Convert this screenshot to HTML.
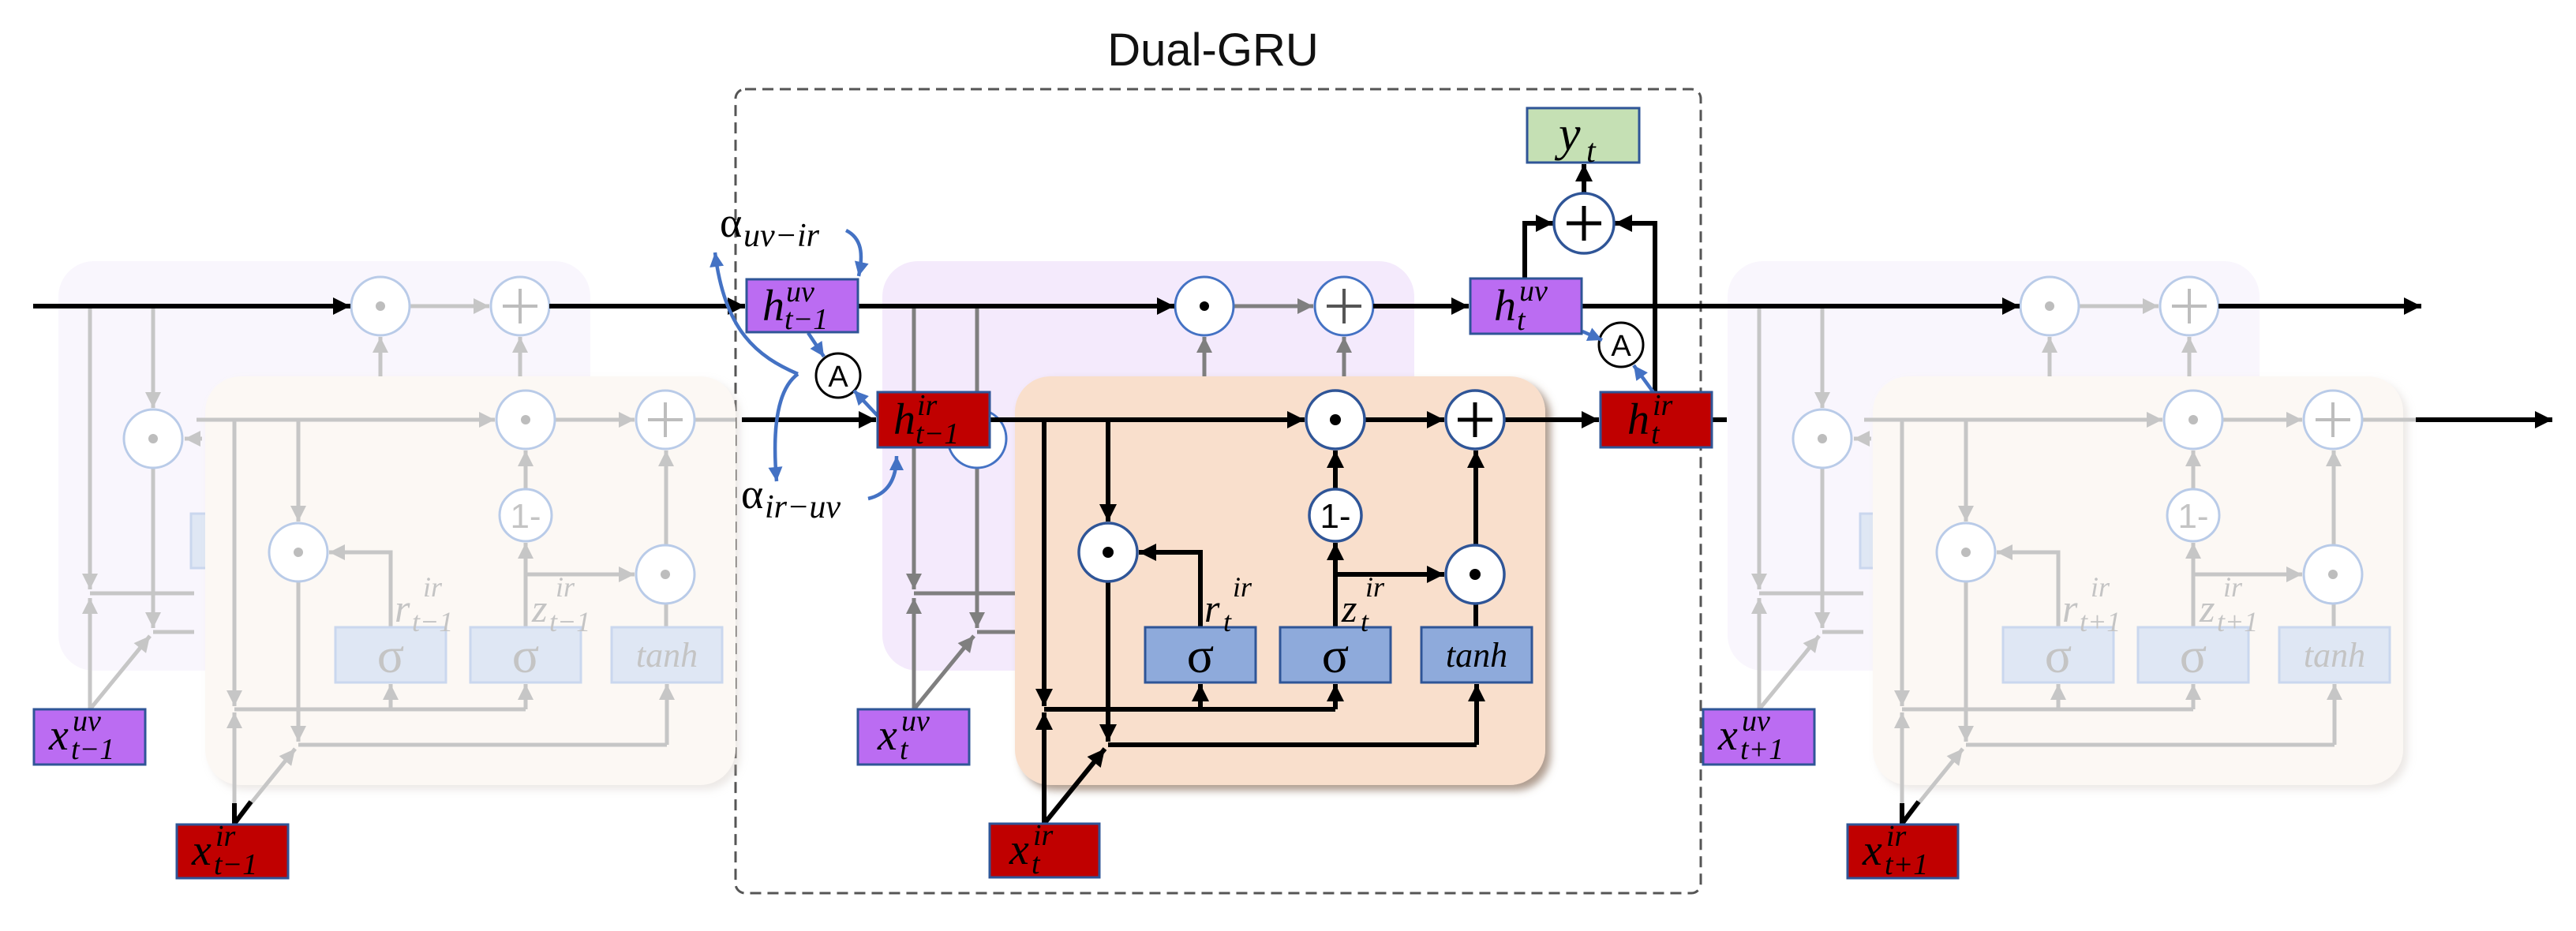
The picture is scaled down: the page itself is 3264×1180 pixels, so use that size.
<!DOCTYPE html>
<html><head><meta charset="utf-8"><style>
html,body{margin:0;padding:0;background:#fff;}
svg{display:block}
text{font-family:"Liberation Serif",serif;}
.it{font-style:italic}
path{fill:none;stroke-linecap:butt;stroke-linejoin:miter}
.mp path{stroke:#7f7f7f;stroke-width:5}
.mp .a{marker-end:url(#mgd)}
.mp circle.op{fill:#fff;stroke:#4472c4;stroke-width:3}
.mp .dt{fill:#000}
.mp path.pl{stroke:#555;stroke-width:4}
.mo path{stroke:#000;stroke-width:6}
.mo .a{marker-end:url(#mk)}
.mo circle.op{fill:#fff;stroke:#2f5597;stroke-width:3.5}
.mo .dt{fill:#000}
.mo path.pl{stroke:#000;stroke-width:5}
.mo rect.sg{fill:#8eaadb;stroke:#2f5597;stroke-width:3}
.mo text{fill:#000}
.g path{stroke:#c6c6c6;stroke-width:5}
.g .a{marker-end:url(#mg)}
.g circle.op{fill:#fff;stroke:#b9cbe8;stroke-width:3}
.g .dt{fill:#bdbdbd}
.g path.pl{stroke:#bdbdbd;stroke-width:4}
.g rect.sg{fill:#dfe7f4;stroke:#cad7ee;stroke-width:3}
.g text{fill:#c4c4c4}
.top path{stroke:#000;stroke-width:6}
.top .a{marker-end:url(#mk)}
.bl path{stroke:#4472c4;stroke-width:4.5}
.bl .a{marker-end:url(#mb)}
rect.bx{stroke:#2f5597;stroke-width:3}
</style></head><body>
<svg width="3264" height="1180" viewBox="0 0 3264 1180" xmlns="http://www.w3.org/2000/svg">
<defs>
<marker id="mk" viewBox="0 0 10 10" refX="10" refY="5" markerWidth="24" markerHeight="22" markerUnits="userSpaceOnUse" orient="auto"><path d="M0,0 L10,5 L0,10z" style="fill:#000;stroke:none"/></marker>
<marker id="mgd" viewBox="0 0 10 10" refX="10" refY="5" markerWidth="22" markerHeight="20" markerUnits="userSpaceOnUse" orient="auto"><path d="M0,0 L10,5 L0,10z" style="fill:#7f7f7f;stroke:none"/></marker>
<marker id="mg" viewBox="0 0 10 10" refX="10" refY="5" markerWidth="22" markerHeight="20" markerUnits="userSpaceOnUse" orient="auto"><path d="M0,0 L10,5 L0,10z" style="fill:#c6c6c6;stroke:none"/></marker>
<marker id="mb" viewBox="0 0 10 10" refX="10" refY="5" markerWidth="20" markerHeight="18" markerUnits="userSpaceOnUse" orient="auto"><path d="M0,0 L10,5 L0,10z" style="fill:#4472c4;stroke:none"/></marker>
<filter id="sh" x="-5%" y="-5%" width="115%" height="115%"><feDropShadow dx="7" dy="7" stdDeviation="5" flood-color="#7a5a45" flood-opacity="0.6"/></filter>
<filter id="shg" x="-5%" y="-5%" width="115%" height="115%"><feDropShadow dx="6" dy="6" stdDeviation="5" flood-color="#c9bfb6" flood-opacity="0.35"/></filter>
</defs>

<text x="1537" y="83" text-anchor="middle" style="font-family:'Liberation Sans',sans-serif;font-size:58px;fill:#111">Dual-GRU</text>
<rect x="932" y="113" width="1223" height="1019" rx="12" fill="none" stroke="#555" stroke-width="3" stroke-dasharray="14 8"/>

<g class="g" transform="translate(-1044,0)">
<rect x="1118" y="331" width="674" height="519" rx="45" fill="#f9f6fd"/>
<rect class="sg" x="1286" y="651" width="100" height="69"/>
<path class="a" d="M1563,388 H1664"/>
<path class="a" d="M1526,477 V427"/>
<path class="a" d="M1703,477 V427"/>
<path class="a" d="M1158,388 V747"/>
<path class="a" d="M1238,388 V517"/>
<path class="a" d="M1238,593 V796"/>
<path d="M1158,752 H1290"/><path d="M1238,801 H1290"/>
<path class="a" d="M1158,899 V758"/>
<path class="a" d="M1158,899 L1234,806"/>
<path class="a" d="M1300,556 H1278"/>
<circle class="op" cx="1526" cy="388" r="37"/><circle class="dt" cx="1526" cy="388" r="6"/>
<circle class="op" cx="1703" cy="388" r="37"/><path class="pl" d="M1681,388 H1725 M1703,366 V410"/>
<circle class="op" cx="1238" cy="556" r="37"/><circle class="dt" cx="1238" cy="556" r="6"/>
</g>
<g class="g" transform="translate(-1026,0)">
<rect x="1286" y="477" width="672" height="518" rx="45" fill="#fcf8f4" filter="url(#shg)"/>
<path class="a" d="M1275,532 H1653"/>
<path class="a" d="M1730,532 H1830"/>
<path d="M1906,532 H1958"/>
<path class="a" d="M1323,532 V895"/>
<path class="a" d="M1404,532 V661"/>
<path class="a" d="M1521,795 V700 H1443"/>
<path class="a" d="M1692,795 V688"/>
<path class="a" d="M1692,620 V571"/>
<path class="a" d="M1692,728 H1830"/>
<path d="M1870,795 V765"/>
<path class="a" d="M1870,691 V571"/>
<path class="a" d="M1404,737 V940"/>
<path d="M1323,899 H1692"/>
<path class="a" d="M1521,899 V867"/>
<path class="a" d="M1692,899 V867"/>
<path d="M1404,944 H1871"/>
<path class="a" d="M1871,944 V867"/>
<path class="a" d="M1323,1044 V903"/>
<path class="a" d="M1323,1044 L1400,949"/>
<circle class="op" cx="1692" cy="532" r="37"/><circle class="dt" cx="1692" cy="532" r="6"/>
<circle class="op" cx="1869" cy="532" r="37"/><path class="pl" d="M1847,532 H1891 M1869,510 V554"/>
<circle class="op" cx="1404" cy="700" r="37"/><circle class="dt" cx="1404" cy="700" r="6"/>
<circle class="op" cx="1692" cy="653" r="33"/><text x="1692" y="669" text-anchor="middle" style="font-family:'Liberation Sans',sans-serif;font-size:44px">1-</text>
<circle class="op" cx="1869" cy="728" r="37"/><circle class="dt" cx="1869" cy="728" r="6"/>
<rect class="sg" x="1451" y="795" width="140" height="70"/><text x="1521" y="852" text-anchor="middle" style="font-size:64px">σ</text>
<rect class="sg" x="1622" y="795" width="140" height="70"/><text x="1692" y="852" text-anchor="middle" style="font-size:64px">σ</text>
<rect class="sg" x="1801" y="795" width="140" height="70"/><text class="it" x="1871" y="845" text-anchor="middle" style="font-size:44px">tanh</text>
<text class="it" x="1526" y="788" style="font-size:50px">r</text><text class="it" x="1562" y="756" style="font-size:36px">ir</text><text class="it" x="1548" y="800" style="font-size:36px">t−1</text>
<text class="it" x="1700" y="788" style="font-size:50px">z</text><text class="it" x="1730" y="756" style="font-size:36px">ir</text><text class="it" x="1722" y="800" style="font-size:36px">t−1</text>
</g>

<g class="g" transform="translate(1071,0)">
<rect x="1118" y="331" width="674" height="519" rx="45" fill="#f9f6fd"/>
<rect class="sg" x="1286" y="651" width="100" height="69"/>
<path class="a" d="M1563,388 H1664"/>
<path class="a" d="M1526,477 V427"/>
<path class="a" d="M1703,477 V427"/>
<path class="a" d="M1158,388 V747"/>
<path class="a" d="M1238,388 V517"/>
<path class="a" d="M1238,593 V796"/>
<path d="M1158,752 H1290"/><path d="M1238,801 H1290"/>
<path class="a" d="M1158,899 V758"/>
<path class="a" d="M1158,899 L1234,806"/>
<path class="a" d="M1300,556 H1278"/>
<circle class="op" cx="1526" cy="388" r="37"/><circle class="dt" cx="1526" cy="388" r="6"/>
<circle class="op" cx="1703" cy="388" r="37"/><path class="pl" d="M1681,388 H1725 M1703,366 V410"/>
<circle class="op" cx="1238" cy="556" r="37"/><circle class="dt" cx="1238" cy="556" r="6"/>
</g>
<g class="g" transform="translate(1087,0)">
<rect x="1286" y="477" width="672" height="518" rx="45" fill="#fcf8f4" filter="url(#shg)"/>
<path class="a" d="M1275,532 H1653"/>
<path class="a" d="M1730,532 H1830"/>
<path d="M1906,532 H1974"/>
<path class="a" d="M1323,532 V895"/>
<path class="a" d="M1404,532 V661"/>
<path class="a" d="M1521,795 V700 H1443"/>
<path class="a" d="M1692,795 V688"/>
<path class="a" d="M1692,620 V571"/>
<path class="a" d="M1692,728 H1830"/>
<path d="M1870,795 V765"/>
<path class="a" d="M1870,691 V571"/>
<path class="a" d="M1404,737 V940"/>
<path d="M1323,899 H1692"/>
<path class="a" d="M1521,899 V867"/>
<path class="a" d="M1692,899 V867"/>
<path d="M1404,944 H1871"/>
<path class="a" d="M1871,944 V867"/>
<path class="a" d="M1323,1044 V903"/>
<path class="a" d="M1323,1044 L1400,949"/>
<circle class="op" cx="1692" cy="532" r="37"/><circle class="dt" cx="1692" cy="532" r="6"/>
<circle class="op" cx="1869" cy="532" r="37"/><path class="pl" d="M1847,532 H1891 M1869,510 V554"/>
<circle class="op" cx="1404" cy="700" r="37"/><circle class="dt" cx="1404" cy="700" r="6"/>
<circle class="op" cx="1692" cy="653" r="33"/><text x="1692" y="669" text-anchor="middle" style="font-family:'Liberation Sans',sans-serif;font-size:44px">1-</text>
<circle class="op" cx="1869" cy="728" r="37"/><circle class="dt" cx="1869" cy="728" r="6"/>
<rect class="sg" x="1451" y="795" width="140" height="70"/><text x="1521" y="852" text-anchor="middle" style="font-size:64px">σ</text>
<rect class="sg" x="1622" y="795" width="140" height="70"/><text x="1692" y="852" text-anchor="middle" style="font-size:64px">σ</text>
<rect class="sg" x="1801" y="795" width="140" height="70"/><text class="it" x="1871" y="845" text-anchor="middle" style="font-size:44px">tanh</text>
<text class="it" x="1526" y="788" style="font-size:50px">r</text><text class="it" x="1562" y="756" style="font-size:36px">ir</text><text class="it" x="1548" y="800" style="font-size:36px">t+1</text>
<text class="it" x="1700" y="788" style="font-size:50px">z</text><text class="it" x="1730" y="756" style="font-size:36px">ir</text><text class="it" x="1722" y="800" style="font-size:36px">t+1</text>
</g>

<g class="mp">
<rect x="1118" y="331" width="674" height="519" rx="45" fill="#f4eafc"/>
<path class="a" d="M1563,388 H1664"/>
<path class="a" d="M1526,477 V427"/>
<path class="a" d="M1703,477 V427"/>
<path class="a" d="M1158,388 V747"/>
<path class="a" d="M1238,388 V517"/>
<path class="a" d="M1238,593 V796"/>
<path d="M1158,752 H1290"/><path d="M1238,801 H1290"/>
<path class="a" d="M1158,899 V758"/>
<path class="a" d="M1158,899 L1234,806"/>
<circle class="op" cx="1526" cy="388" r="37"/><circle class="dt" cx="1526" cy="388" r="6"/>
<circle class="op" cx="1703" cy="388" r="37"/><path class="pl" d="M1681,388 H1725 M1703,366 V410"/>
<circle class="op" cx="1238" cy="556" r="37"/>
</g>
<g class="mo">
<rect x="1286" y="477" width="672" height="518" rx="45" fill="#f9dfcc" filter="url(#sh)"/>
<path class="a" d="M1254,532 H1653"/>
<path class="a" d="M1730,532 H1830"/>
<path class="a" d="M1906,532 H2026"/>
<path class="a" d="M1323,532 V895"/>
<path class="a" d="M1404,532 V661"/>
<path class="a" d="M1521,795 V700 H1443"/>
<path class="a" d="M1692,795 V688"/>
<path class="a" d="M1692,620 V571"/>
<path class="a" d="M1692,728 H1830"/>
<path d="M1870,795 V765"/>
<path class="a" d="M1870,691 V571"/>
<path class="a" d="M1404,737 V940"/>
<path d="M1323,899 H1692"/>
<path class="a" d="M1521,899 V867"/>
<path class="a" d="M1692,899 V867"/>
<path d="M1404,944 H1871"/>
<path class="a" d="M1871,944 V867"/>
<path class="a" d="M1323,1044 V903"/>
<path class="a" d="M1323,1044 L1400,949"/>
<circle class="op" cx="1692" cy="532" r="37"/><circle class="dt" cx="1692" cy="532" r="7"/>
<circle class="op" cx="1869" cy="532" r="37"/><path class="pl" d="M1847,532 H1891 M1869,510 V554"/>
<circle class="op" cx="1404" cy="700" r="37"/><circle class="dt" cx="1404" cy="700" r="7"/>
<circle class="op" cx="1692" cy="653" r="33"/><text x="1692" y="669" text-anchor="middle" style="font-family:'Liberation Sans',sans-serif;font-size:44px">1-</text>
<circle class="op" cx="1869" cy="728" r="37"/><circle class="dt" cx="1869" cy="728" r="7"/>
<rect class="sg" x="1451" y="795" width="140" height="70"/><text x="1521" y="852" text-anchor="middle" style="font-size:64px">σ</text>
<rect class="sg" x="1622" y="795" width="140" height="70"/><text x="1692" y="852" text-anchor="middle" style="font-size:64px">σ</text>
<rect class="sg" x="1801" y="795" width="140" height="70"/><text class="it" x="1871" y="845" text-anchor="middle" style="font-size:44px">tanh</text>
<text class="it" x="1526" y="788" style="font-size:50px">r</text><text class="it" x="1562" y="756" style="font-size:36px">ir</text><text class="it" x="1550" y="800" style="font-size:36px">t</text>
<text class="it" x="1700" y="788" style="font-size:50px">z</text><text class="it" x="1730" y="756" style="font-size:36px">ir</text><text class="it" x="1724" y="800" style="font-size:36px">t</text>
</g>

<g class="top">
<path class="a" d="M42,388 H444"/>
<path class="a" d="M696,388 H944"/>
<path class="a" d="M1087,388 H1488"/>
<path class="a" d="M1740,388 H1861"/>
<path class="a" d="M2004,388 H2559"/>
<path class="a" d="M2811,388 H3068"/>
<path class="a" d="M940,532 H1110"/>
<path d="M2169,532 H2188"/>
<path class="a" d="M3061,532 H3234"/>
<path class="a" d="M1932,353 V283 H1968"/>
<path class="a" d="M2097,497 V283 H2046"/>
<path class="a" d="M2007,246 V208"/>
<path d="M297,1044 V1018 M297,1044 L318,1016"/>
<path d="M2410,1044 V1018 M2410,1044 L2431,1016"/>
</g>

<circle cx="2007" cy="283" r="38" fill="#fff" stroke="#2f5597" stroke-width="3.5"/>
<path d="M1985,283 H2029 M2007,261 V305" stroke="#000" stroke-width="5"/>
<circle cx="1062" cy="476" r="28" fill="#fff" stroke="#000" stroke-width="3"/>
<text x="1062" y="490" text-anchor="middle" style="font-family:'Liberation Sans',sans-serif;font-size:38px">A</text>
<circle cx="2054" cy="437" r="28" fill="#fff" stroke="#000" stroke-width="3"/>
<text x="2054" y="451" text-anchor="middle" style="font-family:'Liberation Sans',sans-serif;font-size:38px">A</text>

<g class="bl">
<path class="a" d="M1072,292 C1092,302 1094,322 1088,350"/>
<path class="a" d="M1100,632 C1126,626 1136,606 1136,578"/>
<path class="a" d="M1011,474 C960,452 918,420 906,320"/>
<path class="a" d="M1011,474 C986,492 978,540 984,610"/>
<path class="a" d="M1024,422 L1044,452"/>
<path class="a" d="M1113,528 L1082,495"/>
<path class="a" d="M2005,420 L2030,431"/>
<path class="a" d="M2097,500 L2070,463"/>
</g>

<text x="912" y="300" style="font-size:54px">α</text><text class="it" x="942" y="312" style="font-size:42px">uv−ir</text>
<text x="939" y="644" style="font-size:54px">α</text><text class="it" x="969" y="656" style="font-size:42px">ir−uv</text>

<rect class="bx" x="1935" y="137" width="142" height="69" fill="#c5e0b4"/>
<text class="it" x="1975" y="190" style="font-size:62px">y</text><text class="it" x="2010" y="205" style="font-size:42px">t</text>

<rect class="bx" x="946" y="354" width="141" height="67" fill="#bb6cf2"/>
<text class="it" x="966" y="406" style="font-size:56px">h</text><text class="it" x="996" y="382" style="font-size:38px">uv</text><text class="it" x="994" y="417" style="font-size:38px">t−1</text>

<rect class="bx" x="1863" y="353" width="141" height="70" fill="#bb6cf2"/>
<text class="it" x="1893" y="406" style="font-size:56px">h</text><text class="it" x="1925" y="381" style="font-size:38px">uv</text><text class="it" x="1922" y="418" style="font-size:38px">t</text>

<rect class="bx" x="1112" y="497" width="142" height="70" fill="#c00000"/>
<text class="it" x="1132" y="550" style="font-size:56px">h</text><text class="it" x="1162" y="526" style="font-size:38px">ir</text><text class="it" x="1160" y="562" style="font-size:38px">t−1</text>

<rect class="bx" x="2028" y="497" width="141" height="70" fill="#c00000"/>
<text class="it" x="2062" y="550" style="font-size:56px">h</text><text class="it" x="2094" y="526" style="font-size:38px">ir</text><text class="it" x="2092" y="562" style="font-size:38px">t</text>

<rect class="bx" x="43" y="899" width="141" height="70" fill="#bb6cf2"/>
<text class="it" x="62" y="950" style="font-size:56px">x</text><text class="it" x="92" y="926" style="font-size:38px">uv</text><text class="it" x="90" y="962" style="font-size:38px">t−1</text>

<rect class="bx" x="1087" y="899" width="141" height="70" fill="#bb6cf2"/>
<text class="it" x="1112" y="950" style="font-size:56px">x</text><text class="it" x="1142" y="926" style="font-size:38px">uv</text><text class="it" x="1140" y="962" style="font-size:38px">t</text>

<rect class="bx" x="2158" y="899" width="141" height="70" fill="#bb6cf2"/>
<text class="it" x="2177" y="950" style="font-size:56px">x</text><text class="it" x="2207" y="926" style="font-size:38px">uv</text><text class="it" x="2205" y="962" style="font-size:38px">t+1</text>

<rect class="bx" x="224" y="1045" width="141" height="68" fill="#c00000"/>
<text class="it" x="243" y="1096" style="font-size:56px">x</text><text class="it" x="273" y="1072" style="font-size:38px">ir</text><text class="it" x="271" y="1108" style="font-size:38px">t−1</text>

<rect class="bx" x="1254" y="1044" width="139" height="68" fill="#c00000"/>
<text class="it" x="1279" y="1095" style="font-size:56px">x</text><text class="it" x="1309" y="1071" style="font-size:38px">ir</text><text class="it" x="1307" y="1107" style="font-size:38px">t</text>

<rect class="bx" x="2341" y="1045" width="140" height="68" fill="#c00000"/>
<text class="it" x="2360" y="1096" style="font-size:56px">x</text><text class="it" x="2390" y="1072" style="font-size:38px">ir</text><text class="it" x="2388" y="1108" style="font-size:38px">t+1</text>
</svg>
</body></html>
